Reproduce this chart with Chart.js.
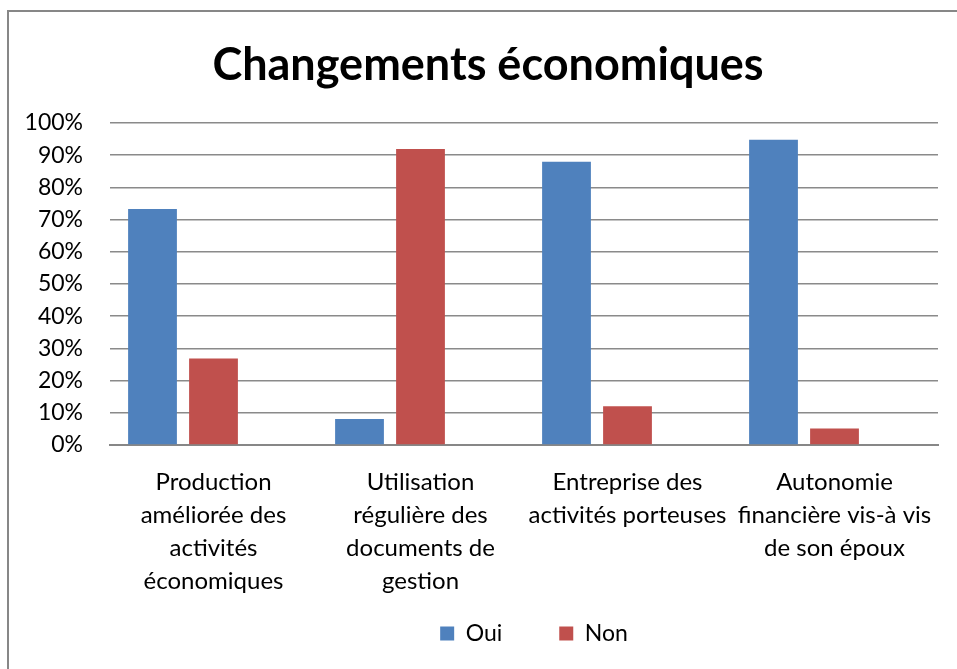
<!DOCTYPE html>
<html>
<head>
<meta charset="utf-8">
<script src="https://cdn.jsdelivr.net/npm/chart.js@4"></script>
<style>
  html, body { margin: 0; padding: 0; background: #fff; }
  #wrap { width: 957px; height: 669px; position: relative; }
</style>
</head>
<body>
<div id="wrap"><canvas id="chart" width="957" height="669"></canvas></div>
<script>
// categories (multi-line, as in the original)
const categories = [
  ["Production", "améliorée des", "activités", "économiques"],
  ["Utilisation", "régulière des", "documents de", "gestion"],
  ["Entreprise des", "activités porteuses"],
  ["Autonomie", "financière vis-à vis", "de son époux"]
];
const oui = [73.3, 8.1, 88.0, 94.8];
const non = [26.9, 91.9, 12.0, 5.1];
const yTicks = [0, 10, 20, 30, 40, 50, 60, 70, 80, 90, 100];

const FONT = "Lato, 'Open Sans', sans-serif";

// frame of the chart (left and top edge only, like the screenshot)
const framePlugin = {
  id: 'frame',
  beforeDraw(chart) {
    const ctx = chart.ctx;
    ctx.save();
    ctx.strokeStyle = '#878787';
    ctx.lineWidth = 2;
    ctx.beginPath();
    ctx.moveTo(8, 669);
    ctx.lineTo(8, 11);
    ctx.lineTo(957, 11);
    ctx.stroke();
    ctx.restore();
  }
};

// put the legend and title where Excel had them
const boxShift = {
  id: 'boxShift',
  afterLayout(chart) {
    const lg = chart.legend;
    if (lg) {
      const h = lg.bottom - lg.top;
      lg.left += 120;
      lg.top = 565;
      lg.bottom = 565 + h;
    }
    const tb = chart.titleBlock;
    if (tb) {
      tb.left += 14;
      tb.right += 14;
    }
  }
};

new Chart(document.getElementById('chart'), {
  type: 'bar',
  data: {
    labels: categories,
    datasets: [
      { label: 'Oui', data: oui, backgroundColor: '#4F81BD' },
      { label: 'Non', data: non, backgroundColor: '#C0504D' },
      { label: '', data: [null, null, null, null], backgroundColor: 'rgba(0,0,0,0)' }
    ]
  },
  options: {
    responsive: false,
    animation: false,
    categoryPercentage: 0.884,
    barPercentage: 0.8,
    layout: { padding: { left: 10, right: 19, top: 18, bottom: -20 } },
    plugins: {
      title: {
        display: true,
        text: 'Changements économiques',
        color: '#000',
        font: { family: FONT, size: 45, weight: 'bold' },
        padding: { top: 20, bottom: 31 }
      },
      legend: {
        position: 'bottom',
        labels: {
          color: '#000',
          font: { family: FONT, size: 23 },
          boxWidth: 14,
          boxHeight: 14,
          padding: 57,
          filter: (item) => item.text !== ''
        }
      },
      tooltip: { enabled: false }
    },
    scales: {
      x: {
        grid: { display: false, drawTicks: false },
        border: { display: true, color: '#878787', width: 2 },
        ticks: {
          color: '#000',
          font: { family: FONT, size: 24, lineHeight: '33px' },
          padding: 21,
          maxRotation: 0,
          autoSkip: false
        },
        afterFit(scale) { scale.height = 154; }
      },
      y: {
        min: 0,
        max: 100,
        grid: { color: '#8a8a8a', lineWidth: 1.5, drawTicks: false },
        border: { display: false },
        afterBuildTicks(scale) { scale.ticks = yTicks.map(v => ({ value: v })); },
        ticks: {
          color: '#000',
          font: { family: FONT, size: 23 },
          padding: 27,
          callback: (v) => v + '%'
        },
        afterFit(scale) { scale.width = 100; }
      }
    }
  },
  plugins: [framePlugin, boxShift]
});
</script>
</body>
</html>
